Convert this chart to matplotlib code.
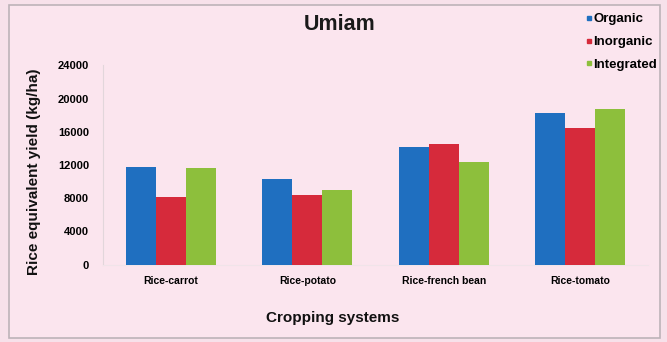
import numpy as np
import matplotlib
matplotlib.use('Agg')
import matplotlib.pyplot as plt
from matplotlib.patches import Rectangle
from matplotlib.lines import Line2D

systems = ['Rice-carrot', 'Rice-potato', 'Rice-french bean', 'Rice-tomato']
organic = [11800, 10300, 14200, 18200]
inorganic = [8100, 8400, 14500, 16400]
integrated = [11600, 9000, 12400, 18800]
series_names = ['Organic', 'Inorganic', 'Integrated']
colors = ['#1f6fc0', '#d62a3b', '#8dbf3c']
y_ticks = [0, 4000, 8000, 12000, 16000, 20000, 24000]

plt.rcParams['font.family'] = ['Liberation Sans', 'DejaVu Sans']

W, H = 667, 342
fig = plt.figure(figsize=(W / 100, H / 100), dpi=100)
fig.patch.set_facecolor('#f7e1ea')

# outer frame
frame = Rectangle((9 / W, 1 - 338 / H), 651 / W, 333 / H, transform=fig.transFigure,
                  facecolor='#fbe5ee', edgecolor='#bdb3b8', linewidth=1.2, zorder=-5)
fig.patches.append(frame)

ax = fig.add_axes([103 / W, 1 - 264.7 / H, 545 / W, (264.7 - 65.3) / H])
ax.set_facecolor('none')
ax.set_zorder(2)

x = np.arange(len(systems))
bw = 30 / 136.5
for i, (vals, c) in enumerate(zip([organic, inorganic, integrated], colors)):
    ax.bar(x + (i - 1) * bw, vals, width=bw, color=c, linewidth=0, zorder=3)

ax.set_xlim(-0.5, len(systems) - 0.5)
ax.set_ylim(0, 24000)
ax.set_yticks(y_ticks)
ax.set_yticklabels([str(v) for v in y_ticks], fontsize=8, fontweight='bold')
ax.set_xticks(x)
ax.set_xticklabels(systems, fontsize=7.5, fontweight='bold')
ax.tick_params(length=0)
ax.tick_params(axis='y', pad=10)
ax.tick_params(axis='x', pad=8)
for s in ['top', 'right']:
    ax.spines[s].set_visible(False)
ax.spines['left'].set_color('#e2d6db')
ax.spines['bottom'].set_color('#f0e4e9')

fig.text(34 / W, 1 - 172 / H, 'Rice equivalent yield (kg/ha)', rotation=90,
         ha='center', va='center', fontsize=11, fontweight='bold', color='#111111')
fig.text(333 / W, 1 - 318 / H, 'Cropping systems', ha='center', va='center',
         fontsize=11, fontweight='bold', color='#111111')
fig.text(340 / W, 1 - 25 / H, 'Umiam', ha='center', va='center',
         fontsize=15.5, fontweight='bold', color='#1a1a1a')

handles = [Line2D([], [], marker='s', linestyle='none', markersize=3.5,
                  markerfacecolor=c, markeredgecolor=c) for c in colors]
fig.legend(handles, series_names, loc='upper left', bbox_to_anchor=(576 / W, 1 - 4 / H),
           frameon=False, prop={'size': 9.5, 'weight': 'bold'}, handlelength=0.5,
           handletextpad=0.1, labelspacing=0.8, borderpad=0.2)

fig.savefig('out.png', dpi=100, facecolor=fig.get_facecolor())
